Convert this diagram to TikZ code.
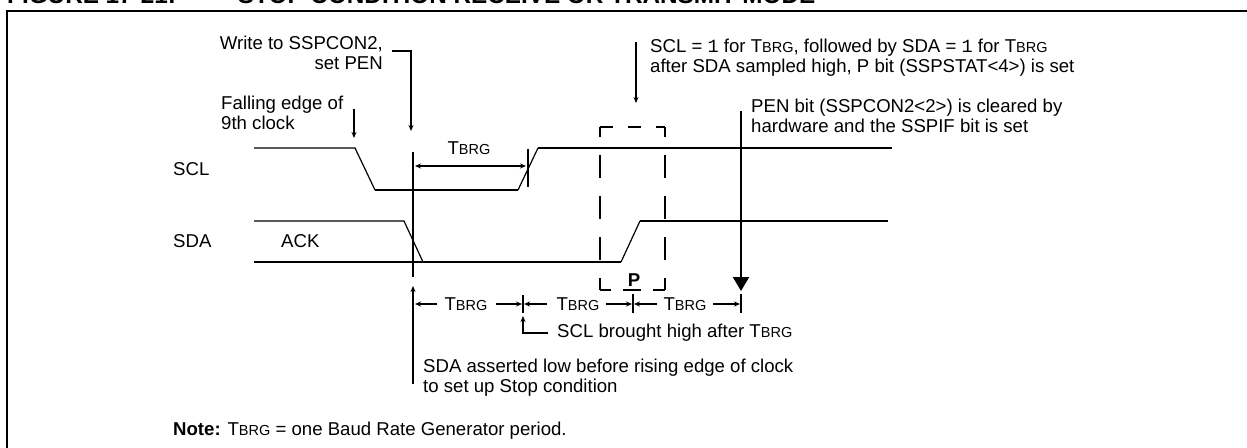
\documentclass[tikz,border=0pt]{standalone}
\usepackage{fontspec}
\setmainfont{Liberation Sans}
\setmonofont{Liberation Mono}
\usetikzlibrary{arrows.meta, calc}
\newcommand{\tbrg}{T{\fontsize{14.5}{14.5}\selectfont BRG}}
\tikzset{
  lbl/.style={font=\fontsize{18.6}{19.5}\selectfont, inner sep=0pt, align=left},
  wire/.style={line width=2pt},
  thinwire/.style={line width=1.2pt},
  leader/.style={line width=1.3pt, -{Stealth[length=6pt,width=5pt]}},
  dimline/.style={line width=1.3pt, -{Stealth[length=6pt,width=5pt]}},
  tick/.style={line width=1.5pt},
  dashbox/.style={line width=1.5pt}
}
\begin{document}
\begin{tikzpicture}[x=1pt,y=-1pt]
  \useasboundingbox (0,0) rectangle (1247,447);
  \clip (0,0) rectangle (1247,447);
  % heading, cut by the top edge
  \node[anchor=base west, inner sep=0pt, font=\bfseries\fontsize{24.3}{24.3}\selectfont] (heading) at (7,4)
    {FIGURE 17-21:\hspace{62pt}STOP CONDITION RECEIVE OR TRANSMIT MODE};
  % frame
  \draw[line width=2pt] (7,448) -- (7,11) -- (1248,11);
  % SCL
  \draw[thinwire] (254,148) -- (355,148) -- (375,190);
  \draw[wire] (375,190) -- (518,190);
  \draw[thinwire] (518,190) -- (538,148);
  \draw[wire] (538,148) -- (892,148);
  % SDA
  \draw[thinwire] (254,221) -- (404,221) -- (423,262);
  \draw[wire] (254,262) -- (621,262);
  \draw[thinwire] (621,262) -- (640,221);
  \draw[thinwire] (640,221) -- (888,221);
  \node[lbl, anchor=west] (sclname) at (173,169) {SCL};
  \node[lbl, anchor=west] (sdaname) at (173,241) {SDA};
  \node[lbl, anchor=west] (ackname) at (281,241) {ACK};
  % upper notes
  \node[lbl, anchor=north east, align=right] (pennote) at (383,36) {Write to SSPCON2,\\set PEN};
  \draw[leader] (392,51) -| (411,131);
  \node[lbl, anchor=north west] (fallnote) at (221,96) {Falling edge of\\9th clock};
  \draw[leader] (354,109) -- (354,138);
  \node[lbl, anchor=north west] (sclnote) at (650,39) {SCL = {\ttfamily 1} for \tbrg, followed by SDA = {\ttfamily 1} for \tbrg\\after SDA sampled high, P bit (SSPSTAT<4>) is set};
  \draw[leader] (636,42) -- (636,103);
  \node[lbl, anchor=north west] (clearnote) at (751,99) {PEN bit (SSPCON2<2>) is cleared by\\hardware and the SSPIF bit is set};
  \draw[line width=2pt, -{Triangle[length=14pt,width=16pt]}] (741,111) -- (741,291);
  % first interval
  \draw[wire] (413,152) -- (413,277);
  \node[lbl] (tbrgtop) at (469,148) {\tbrg};
  \draw[dimline, {Stealth[length=6pt,width=5pt]}-{Stealth[length=6pt,width=5pt]}] (415,166) -- (526,166);
  \draw[tick] (528,149) -- (528,187);
  % stop box
  \draw[dashbox, dash pattern=on 13pt off 15pt] (600,127) -- (665,127);
  \draw[dashbox, dash pattern=on 23pt off 18pt, dash phase=13pt] (600,127) -- (600,290);
  \draw[dashbox, dash pattern=on 23pt off 18pt, dash phase=13pt] (665,127) -- (665,290);
  \draw[dashbox, dash pattern=on 18pt off 12pt, dash phase=7pt] (600,290) -- (665,290);
  \node[lbl, font=\bfseries\fontsize{18.6}{19.5}\selectfont] (stopname) at (634,280) {P};
  % lower row
  \draw[tick] (523,295) -- (523,313);
  \draw[wire] (633,294) -- (633,313);
  \draw[tick] (741,294) -- (741,313);
  \node[lbl] (tbrga) at (466,304) {\tbrg};
  \node[lbl] (tbrgb) at (578,304) {\tbrg};
  \node[lbl] (tbrgc) at (685,304) {\tbrg};
  \draw[dimline] (437,304) -- (415,304);
  \draw[dimline] (496,304) -- (522,304);
  \draw[dimline] (547,304) -- (524,304);
  \draw[dimline] (606,304) -- (632,304);
  \draw[dimline] (657,304) -- (634,304);
  \draw[dimline] (713,304) -- (740,304);
  \node[lbl, anchor=west] (highnote) at (557,333) {SCL brought high after \tbrg};
  \draw[leader] (548,333) -| (523,316);
  \draw[leader] (413,384) -- (413,286);
  \node[lbl, anchor=north west] (lownote) at (423,359) {SDA asserted low before rising edge of clock\\to set up Stop condition};
  \node[lbl, anchor=west] (notetext) at (173,431) {\textbf{Note:} \tbrg{} = one Baud Rate Generator period.};
\end{tikzpicture}
\end{document}
